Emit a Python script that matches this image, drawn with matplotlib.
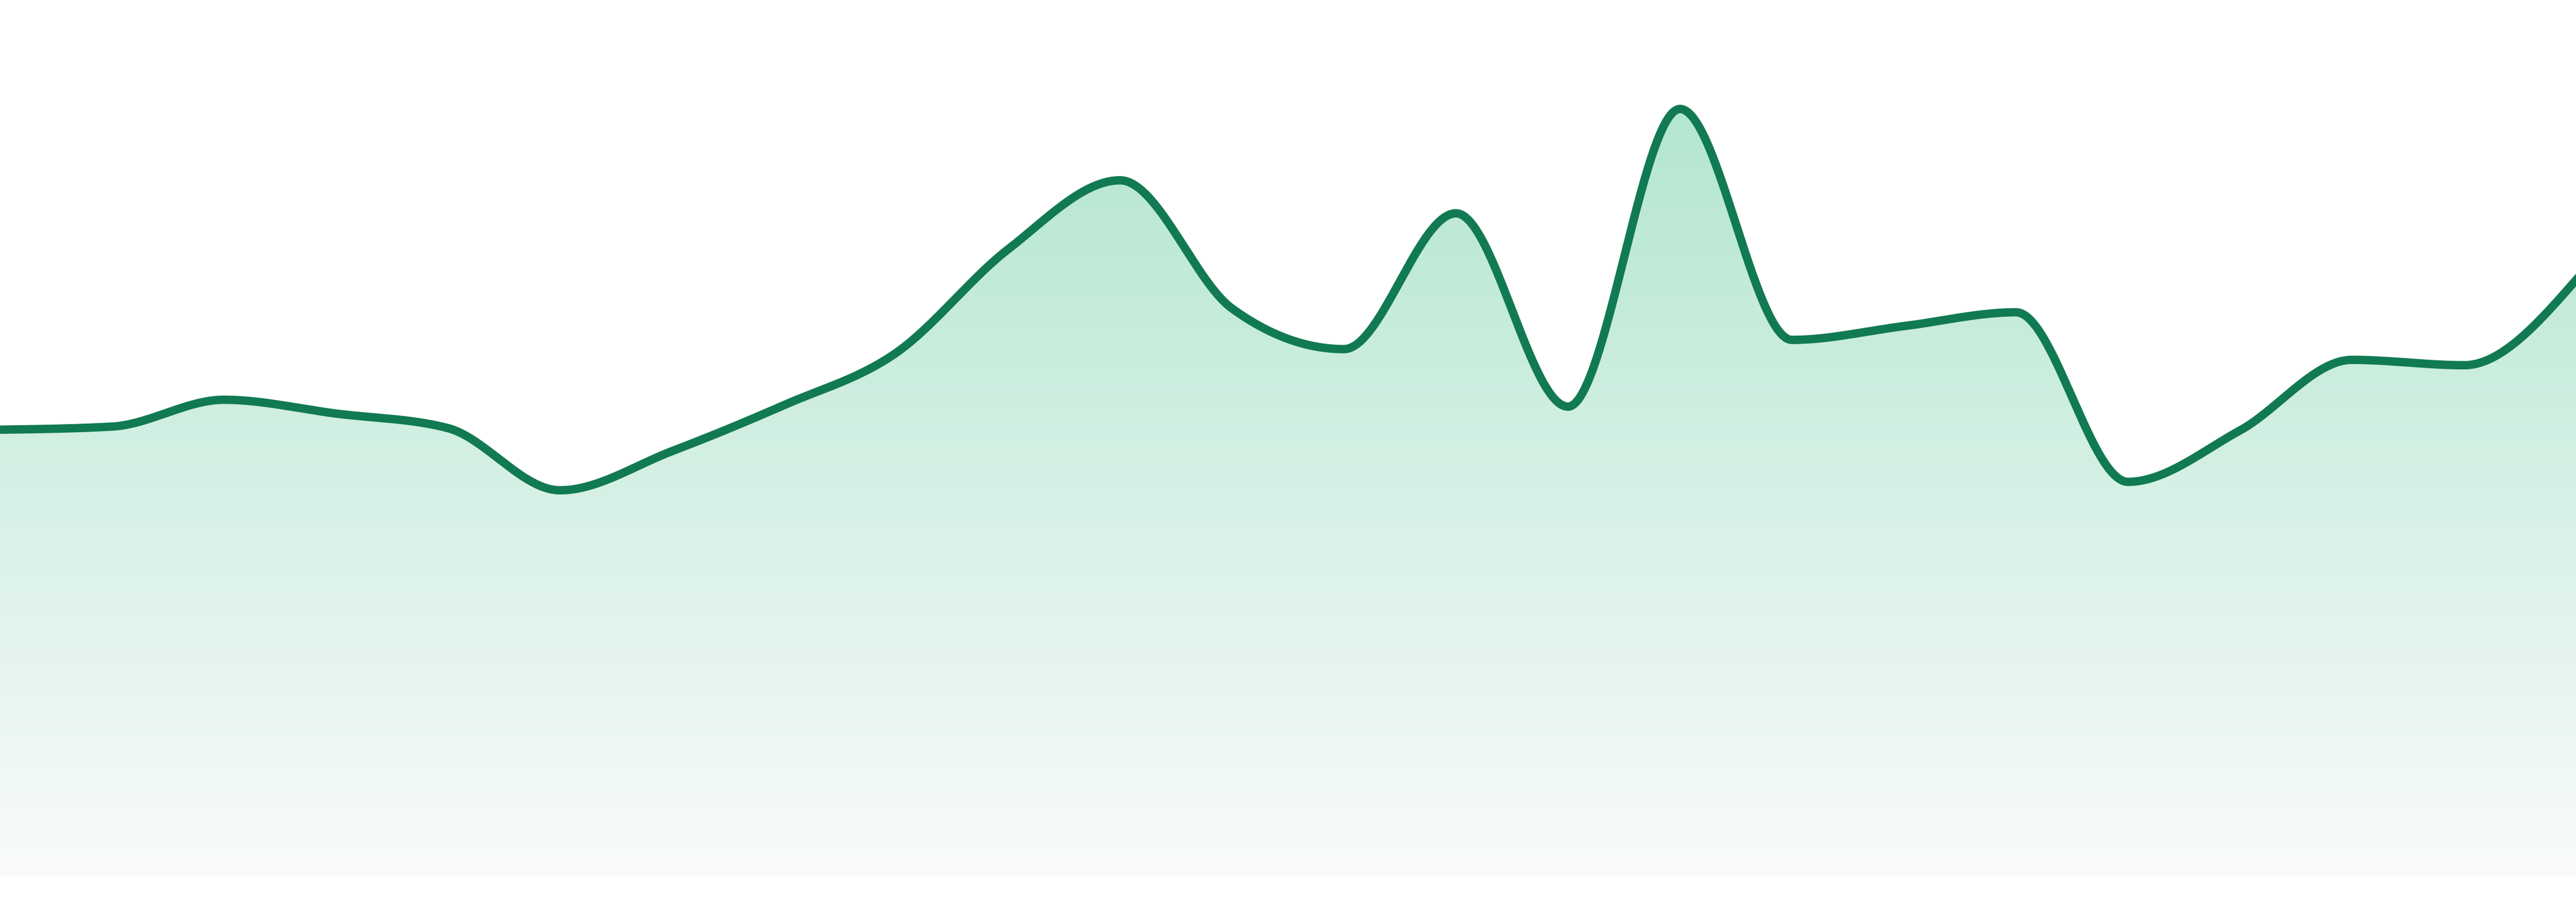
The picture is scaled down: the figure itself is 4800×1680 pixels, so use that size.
import numpy as np
import matplotlib
matplotlib.use("Agg")
import matplotlib.pyplot as plt
from matplotlib.colors import LinearSegmentedColormap
from matplotlib.patches import Polygon

# values (24 evenly spaced points)
values = [58.2, 58.6, 62.1, 60.3, 58.4, 50.3, 55.4, 61.4, 68.2, 81.7, 90.7, 74.0,
          68.7, 86.4, 61.2, 100.0, 69.9, 71.7, 73.5, 51.4, 58.1, 67.3, 66.6, 77.7]
x = np.arange(len(values))

line_color = "#117a52"
fill_top = "#b3e6d0"
fill_bottom = "#f9fbfa"


def monotone_slopes(x, y):
    # same rule as d3 curveMonotoneX
    x = np.asarray(x, float)
    y = np.asarray(y, float)
    n = len(x)
    t = np.zeros(n)
    for i in range(1, n - 1):
        h0 = x[i] - x[i - 1]
        h1 = x[i + 1] - x[i]
        s0 = (y[i] - y[i - 1]) / h0
        s1 = (y[i + 1] - y[i]) / h1
        p = (s0 * h1 + s1 * h0) / (h0 + h1)
        t[i] = (np.sign(s0) + np.sign(s1)) * min(abs(s0), abs(s1), 0.5 * abs(p))
    h = x[1] - x[0]
    t[0] = (3 * (y[1] - y[0]) / h - t[1]) / 2
    h = x[-1] - x[-2]
    t[-1] = (3 * (y[-1] - y[-2]) / h - t[-2]) / 2
    return t


def monotone_curve(x, y, n=60):
    x = np.asarray(x, float)
    y = np.asarray(y, float)
    t = monotone_slopes(x, y)
    xs, ys = [], []
    for i in range(len(x) - 1):
        h = x[i + 1] - x[i]
        u = np.linspace(0, 1, n, endpoint=(i == len(x) - 2))
        h00 = 2 * u**3 - 3 * u**2 + 1
        h10 = u**3 - 2 * u**2 + u
        h01 = -2 * u**3 + 3 * u**2
        h11 = u**3 - u**2
        xs.append(x[i] + u * h)
        ys.append(h00 * y[i] + h10 * h * t[i] + h01 * y[i + 1] + h11 * h * t[i + 1])
    return np.concatenate(xs), np.concatenate(ys)


xs, ys = monotone_curve(x, values)

fig = plt.figure(figsize=(16, 5.6), dpi=300)
ax = fig.add_axes([0, 0, 1, 1])
ax.set_xlim(0, len(values) - 1)
ax.set_ylim(-3.36, 114.2)
ax.axis("off")

# gradient fill under the curve
cmap = LinearSegmentedColormap.from_list("fade", [fill_bottom, fill_top])
grad = np.linspace(0, 1, 256).reshape(-1, 1)
im = ax.imshow(grad, extent=[0, len(values) - 1, 0, max(values)], origin="lower",
               aspect="auto", cmap=cmap, zorder=1)
verts = np.column_stack([np.r_[xs, xs[-1], xs[0]], np.r_[ys, 0, 0]])
clip = Polygon(verts, closed=True, transform=ax.transData, facecolor="none", edgecolor="none")
ax.add_patch(clip)
im.set_clip_path(clip)

ax.plot(xs, ys, color=line_color, lw=3.75, solid_joinstyle="round", zorder=2)

fig.savefig("out.png", dpi=300, facecolor="white")
